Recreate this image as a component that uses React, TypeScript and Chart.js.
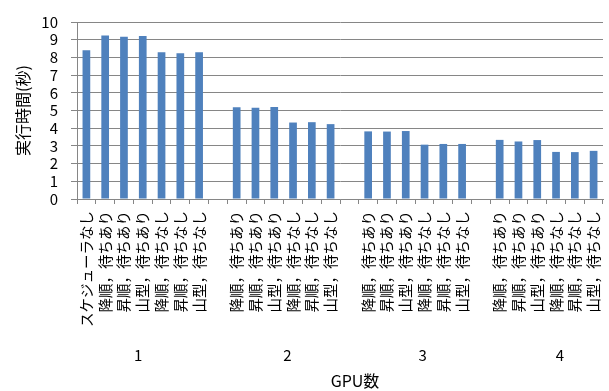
import React, { useEffect, useRef } from 'react';
import { Chart, registerables } from 'chart.js';

Chart.register(...registerables);

// GPU counts (outer category level)
const GPU_GROUPS = ['1', '2', '3', '4'];
// Scheduling variants (inner category level)
const NO_SCHEDULER = 'スケジューラなし';
const SCHEDULES = [
  '降順，待ちあり',
  '昇順，待ちあり',
  '山型，待ちあり',
  '降順，待ちなし',
  '昇順，待ちなし',
  '山型，待ちなし',
];

// Execution time in seconds; GPU=1 starts with the no-scheduler run
const TIMES_GPU1 = [8.4, 9.24, 9.17, 9.21, 8.29, 8.23, 8.29];
const TIMES_GPU2 = [5.18, 5.15, 5.2, 4.32, 4.34, 4.23];
const TIMES_GPU3 = [3.82, 3.81, 3.84, 3.07, 3.11, 3.11];
const TIMES_GPU4 = [3.34, 3.25, 3.33, 2.66, 2.65, 2.72];

const Y_MIN = 0;
const Y_MAX = 10;
const Y_STEP = 1;

const Y_TITLE = '実行時間(秒)';
const X_TITLE = 'GPU数';

const BAR_COLOR = '#4F81BD';
const GRID_COLOR = '#868686';
const FONT = '"Noto Sans CJK JP", "Noto Sans", sans-serif';

// Flatten groups into one category axis with an empty slot between groups
const groupLabels = [
  [NO_SCHEDULER, ...SCHEDULES],
  SCHEDULES,
  SCHEDULES,
  SCHEDULES,
];
const groupTimes = [TIMES_GPU1, TIMES_GPU2, TIMES_GPU3, TIMES_GPU4];

const labels: string[] = [];
const values: (number | null)[] = [];
groupLabels.forEach((g, gi) => {
  g.forEach((l, i) => {
    labels.push(l);
    values.push(groupTimes[gi][i]);
  });
  if (gi < groupLabels.length - 1) {
    labels.push('');
    values.push(null);
  }
});

// Where the GPU count label sits along the category axis (category index units)
const GROUP_LABEL_AT = [2.75, 10.7, 17.9, 25.2];

const titlesPlugin = {
  id: 'titles',
  afterDraw(chart: any) {
    const ctx = chart.ctx as CanvasRenderingContext2D;
    const xs = chart.scales.x;
    ctx.save();
    ctx.fillStyle = '#000';
    ctx.textAlign = 'center';
    ctx.textBaseline = 'middle';
    ctx.font = `15px ${FONT}`;
    GPU_GROUPS.forEach((g, i) => {
      ctx.fillText(g, xs.getPixelForValue(GROUP_LABEL_AT[i]), 355);
    });
    ctx.font = `16px ${FONT}`;
    ctx.fillText(X_TITLE, 355, 381);
    const area = chart.chartArea;
    ctx.translate(23, (area.top + area.bottom) / 2);
    ctx.rotate(-Math.PI / 2);
    ctx.fillText(Y_TITLE, 0, 0);
    ctx.restore();
  },
};

export default function App() {
  const ref = useRef<HTMLCanvasElement | null>(null);

  useEffect(() => {
    if (!ref.current) return;
    const chart = new Chart(ref.current, {
      type: 'bar',
      data: {
        labels,
        datasets: [
          {
            data: values,
            backgroundColor: BAR_COLOR,
            borderWidth: 0,
            barPercentage: 0.41,
            categoryPercentage: 1,
          },
        ],
      },
      options: {
        animation: false,
        responsive: false,
        maintainAspectRatio: false,
        layout: { padding: { top: 18, right: 6, left: 0, bottom: 0 } },
        plugins: {
          legend: { display: false },
          tooltip: { enabled: false },
        },
        scales: {
          x: {
            grid: {
              display: true,
              drawOnChartArea: false,
              drawTicks: true,
              tickLength: 5,
              color: GRID_COLOR,
              offset: true,
            },
            border: { color: GRID_COLOR },
            ticks: {
              autoSkip: false,
              minRotation: 90,
              maxRotation: 90,
              padding: 7,
              color: '#000',
              font: { family: FONT, size: 14.5 },
            },
            afterFit(scale: any) {
              scale.height = 192;
              scale.paddingLeft = 0;
              scale.paddingRight = 0;
            },
          },
          y: {
            min: Y_MIN,
            max: Y_MAX,
            grid: {
              color: GRID_COLOR,
              tickLength: 6,
            },
            border: { color: GRID_COLOR },
            ticks: {
              stepSize: Y_STEP,
              autoSkip: false,
              padding: 13,
              color: '#000',
              font: { family: FONT, size: 15 },
            },
            afterFit(scale: any) {
              scale.width = 77;
            },
          },
        },
      },
      plugins: [titlesPlugin],
    });
    return () => chart.destroy();
  }, []);

  return (
    <div style={{ position: 'fixed', left: 0, top: 0, width: 609, height: 391, background: '#fff' }}>
      <canvas ref={ref} width={609} height={391} style={{ display: 'block' }} />
    </div>
  );
}
